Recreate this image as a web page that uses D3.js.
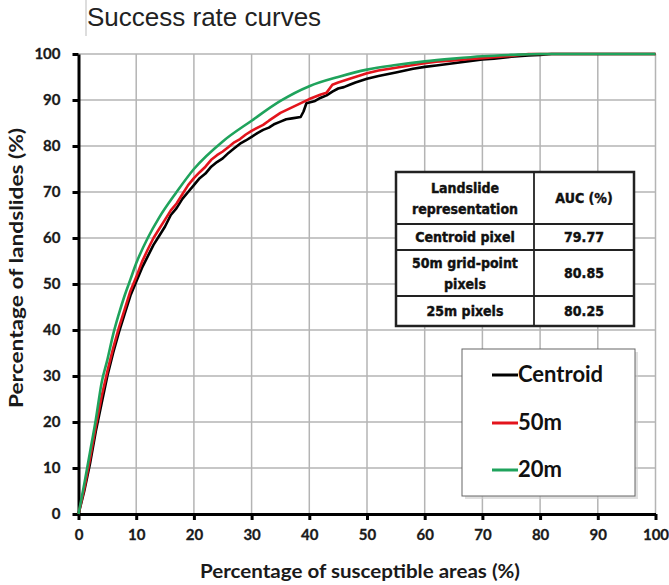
<!DOCTYPE html>
<html><head><meta charset="utf-8">
<script src="https://cdn.jsdelivr.net/npm/d3@7"></script>
<style>body{margin:0;background:#fff}svg{display:block}</style>
</head><body><svg id="c" width="669" height="585"></svg>
<script>
const xTicks = [0,10,20,30,40,50,60,70,80,90,100];
const yTicks = [0,10,20,30,40,50,60,70,80,90,100];

const centroidX = [0,1,2,3,4,5,6,7,8,9,10,11,12,13,14,15,16,17,18,19,20,21,22,23,24,25,26,27,28,29,30,31,32,33,34,35,36,37,38.5,39,39.5,41,42,43,44,45,46,47,48,50,52,55,58,60,62,65,68,70,72,75,78,80,82,100];
const centroidY = [0,5,11,18,24,30,35,39.5,43.5,47.5,50.5,53.5,56,58.5,60.5,62.5,65,66.5,68.5,70,71.5,73,74,75.5,76.5,77.3,78.5,79.5,80.5,81.2,82,82.8,83.5,84,84.8,85.3,85.8,86,86.3,87.5,89.3,89.8,90.5,91,91.8,92.5,92.8,93.3,93.8,94.6,95.2,96,96.8,97.2,97.5,98,98.5,98.8,99,99.4,99.7,99.8,100,100];

const m50X = [0,1,2,3,4,5,6,7,8,9,10,11,12,13,14,15,16,17,18,19,20,21,22,23,24,25,26,27,28,29,30,32,33,35,36,38,40,42,43,44,45,47,50,52,55,58,60,62,65,68,70,72,75,78,100];
const m50Y = [0,5.5,12,19,25.5,31,36,40.5,44.5,48.5,51.5,54.8,57.5,60,62,64,66,67.5,69.5,71.5,73,74.3,75.5,77,78,78.8,79.8,80.8,81.5,82.5,83.3,84.6,85.5,87.2,87.8,89,90.2,91.2,91.6,93.3,93.8,94.6,95.8,96.4,97,97.6,98,98.3,98.6,98.9,99.1,99.3,99.6,100,100];

const m20X = [0,1,2,3,4,5,6,7,8,9,10,12,14,17,20,25,30,35,40,45,50,55,60,65,70,75,80,100];
const m20Y = [0,6.5,13.5,20.5,28.5,33.5,39,43.5,47.5,51,54.5,60,64.5,70,75,81,85.5,89.8,93,95,96.6,97.6,98.4,99,99.5,99.8,100,100];

const seriesNames = ["Centroid","50m","20m"];
const seriesColors = ["#000000","#e3141c","#1fa35c"];

const tableHeader = [["Landslide","representation"],["AUC (%)"]];
const tableRows = [["Centroid pixel"],["50m grid-point","pixels"],["25m pixels"]];
const tableAUC = ["79.77","80.85","80.25"];

const svg = d3.select("#c");
const x = d3.scaleLinear().domain([0,100]).range([78.5,655.5]);
const y = d3.scaleLinear().domain([0,100]).range([514,54]);

// title
svg.append("line").attr("x1",86).attr("x2",86).attr("y1",0).attr("y2",36).attr("stroke","#bbb").attr("stroke-width",1);
svg.append("text").attr("x",87).attr("y",26).attr("font-family","Liberation Sans, Arial, sans-serif")
  .attr("font-size",26).attr("fill","#222").text("Success rate curves");

// grid
const g = svg.append("g");
g.selectAll(".vg").data(xTicks.filter(d=>d>0)).join("line")
  .attr("x1",d=>x(d)).attr("x2",d=>x(d)).attr("y1",y(0)).attr("y2",y(100))
  .attr("stroke","#b4b4b4").attr("stroke-width",1.5);
g.selectAll(".hg").data(yTicks.filter(d=>d>0)).join("line")
  .attr("x1",x(0)).attr("x2",x(100)).attr("y1",d=>y(d)).attr("y2",d=>y(d))
  .attr("stroke","#b4b4b4").attr("stroke-width",1.5);

// axes
const fontAxis = "Lato, 'Open Sans', sans-serif";
const xAxis = svg.append("g").attr("transform",`translate(0,${y(0)})`)
  .call(d3.axisBottom(x).tickValues(xTicks).tickSize(6).tickSizeOuter(0).tickPadding(9));
const yAxis = svg.append("g").attr("transform",`translate(${x(0)},0)`)
  .call(d3.axisLeft(y).tickValues(yTicks).tickSize(6).tickSizeOuter(0).tickPadding(12));
[xAxis,yAxis].forEach(a=>{
  a.select(".domain").attr("stroke","#000").attr("stroke-width",3);
  a.selectAll(".tick line").attr("stroke","#000").attr("stroke-width",3);
  a.selectAll(".tick text").attr("font-family",fontAxis).attr("font-weight","bold")
   .attr("font-size",15).attr("fill","#1a1a1a").attr("stroke","#1a1a1a").attr("stroke-width",0.3);
});

// lines
const xs = [centroidX,m50X,m20X], ys=[centroidY,m50Y,m20Y];
[0,1,2].forEach(i=>{
  const pts = xs[i].map((v,j)=>[v,ys[i][j]]);
  const ln = d3.line().x(d=>x(d[0])).y(d=>y(d[1])).curve(i===2 ? d3.curveMonotoneX : d3.curveLinear);
  svg.append("path").datum(pts).attr("d", ln)
    .attr("fill","none").attr("stroke",seriesColors[i]).attr("stroke-width",2.6).attr("stroke-linejoin","round");
});

// axis titles
svg.append("text").attr("x",360).attr("y",578).attr("text-anchor","middle")
  .attr("font-family",fontAxis).attr("font-weight","bold").attr("font-size",18).attr("fill","#1a1a1a")
  .attr("textLength",320).attr("lengthAdjust","spacingAndGlyphs")
  .text("Percentage of susceptible areas (%)");
svg.append("text").attr("transform","translate(23,268) rotate(-90)").attr("text-anchor","middle")
  .attr("font-family",fontAxis).attr("font-weight","bold").attr("font-size",18).attr("fill","#1a1a1a")
  .attr("textLength",280).attr("lengthAdjust","spacingAndGlyphs")
  .text("Percentage of landslides (%)");

// table
const tx = [396,534,634], ty=[172,224,250,296,326];
const tg = svg.append("g");
tg.append("rect").attr("x",tx[0]).attr("y",ty[0]).attr("width",tx[2]-tx[0]).attr("height",ty[4]-ty[0])
  .attr("fill","#fff").attr("stroke","#222").attr("stroke-width",2.5);
tg.append("line").attr("x1",tx[1]).attr("x2",tx[1]).attr("y1",ty[0]).attr("y2",ty[4]).attr("stroke","#222").attr("stroke-width",1.8);
[1,2,3].forEach(i=>tg.append("line").attr("x1",tx[0]).attr("x2",tx[2]).attr("y1",ty[i]).attr("y2",ty[i]).attr("stroke","#222").attr("stroke-width",1.8));
function cellText(lines, cx, y0, y1){
  const lh = 21, mid=(y0+y1)/2, start = mid - (lines.length-1)*lh/2;
  lines.forEach((t,k)=>tg.append("text").attr("x",cx).attr("y",start+k*lh+5).attr("text-anchor","middle")
    .attr("font-family","'Liberation Sans Narrow', 'DejaVu Sans Condensed', sans-serif").attr("font-weight","bold")
    .attr("font-size",14).attr("stroke","#111").attr("stroke-width",0.4)
    .attr("fill","#111").text(t));
}
cellText(tableHeader[0],(tx[0]+tx[1])/2,ty[0],ty[1]);
cellText(tableHeader[1],(tx[1]+tx[2])/2,ty[0],ty[1]);
tableRows.forEach((r,i)=>{
  cellText(r,(tx[0]+tx[1])/2,ty[i+1],ty[i+2]);
  cellText([tableAUC[i]],(tx[1]+tx[2])/2,ty[i+1],ty[i+2]);
});

// legend
const lg = svg.append("g");
lg.append("rect").attr("x",465).attr("y",352).attr("width",173).attr("height",147).attr("fill","#ccc").attr("opacity",0.6);
lg.append("rect").attr("x",462).attr("y",349).attr("width",173).attr("height",147).attr("fill","#fff").attr("stroke","#666").attr("stroke-width",1);
const ly = [375,423,470];
seriesNames.forEach((n,i)=>{
  lg.append("line").attr("x1",492).attr("x2",518).attr("y1",ly[i]).attr("y2",ly[i]).attr("stroke",seriesColors[i]).attr("stroke-width",3);
  lg.append("text").attr("x",518).attr("y",ly[i]+7).attr("font-family","Lato, sans-serif").attr("font-weight","bold")
    .attr("font-size",22).attr("fill","#111").text(n);
});
</script></body></html>
